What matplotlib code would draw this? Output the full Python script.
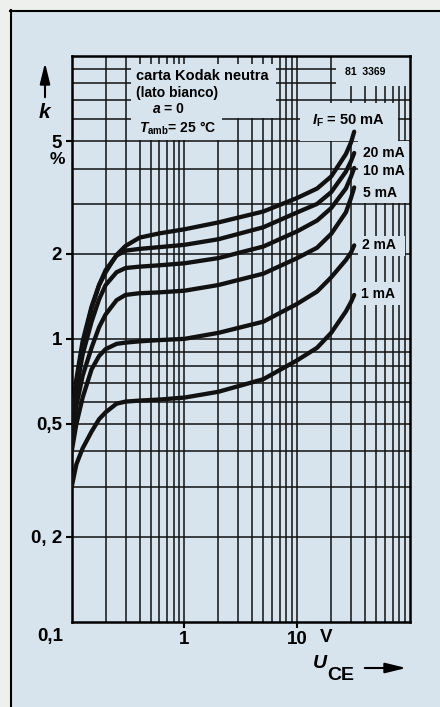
import matplotlib.pyplot as plt
from matplotlib.patches import Rectangle, FancyArrowPatch
from matplotlib.lines import Line2D
from matplotlib.ticker import LogLocator, NullFormatter

plt.rcParams['font.family'] = 'Liberation Sans'
plt.rcParams['font.weight'] = 'bold'
plt.rcParams['mathtext.fontset'] = 'custom'
plt.rcParams['mathtext.rm'] = 'Liberation Sans:bold'
plt.rcParams['mathtext.it'] = 'Liberation Sans:italic:bold'
plt.rcParams['mathtext.bf'] = 'Liberation Sans:bold'

# U_CE in V
u_ce = [0.1, 0.11, 0.125, 0.15, 0.175, 0.2, 0.25, 0.3, 0.4, 0.6, 1, 2, 5, 10, 15, 20, 27, 30, 32]

# k in % for each forward current I_F
k_50ma = [0.52, 0.72, 0.98, 1.3, 1.55, 1.72, 1.98, 2.13, 2.28, 2.36, 2.44, 2.58, 2.82, 3.15, 3.4, 3.75, 4.5, 4.95, 5.4]
k_20ma = [0.5, 0.7, 0.95, 1.28, 1.55, 1.75, 1.97, 2.05, 2.08, 2.11, 2.15, 2.25, 2.48, 2.8, 3.0, 3.3, 3.9, 4.25, 4.54]
k_10ma = [0.48, 0.66, 0.88, 1.15, 1.38, 1.55, 1.72, 1.78, 1.8, 1.82, 1.85, 1.93, 2.12, 2.4, 2.62, 2.9, 3.4, 3.75, 4.02]
k_5ma = [0.46, 0.58, 0.74, 0.93, 1.1, 1.22, 1.37, 1.43, 1.45, 1.46, 1.48, 1.55, 1.7, 1.93, 2.1, 2.35, 2.8, 3.15, 3.43]
k_2ma = [0.4, 0.5, 0.62, 0.78, 0.87, 0.92, 0.96, 0.97, 0.98, 0.99, 1.0, 1.05, 1.15, 1.33, 1.47, 1.65, 1.9, 2.02, 2.14]
k_1ma = [0.3, 0.36, 0.41, 0.47, 0.52, 0.55, 0.59, 0.6, 0.605, 0.61, 0.62, 0.65, 0.72, 0.84, 0.93, 1.05, 1.25, 1.35, 1.43]

y_ticks = [0.2, 0.5, 1, 2, 5]
y_tick_labels = ['0, 2', '0,5', '1', '2', '5']
x_ticks = [1, 10]
x_tick_labels = ['1', '10']

BG = '#d8e4ed'
W, H = 440, 707


def px(x, y):
    # pixel position (from top-left) -> figure fraction
    return x / W, 1 - y / H


fig = plt.figure(figsize=(W / 100, H / 100), dpi=100, facecolor=BG)

# outer frame of the scanned page
fig.add_artist(Rectangle((0, 0), 10 / W, 1, transform=fig.transFigure, fc='#eef0ee', ec='none'))
fig.add_artist(Rectangle(px(0, 10), 1, 10 / H, transform=fig.transFigure, fc='#eef0ee', ec='none'))
fig.add_artist(Line2D([10.5 / W, 10.5 / W], [0, 1 - 10 / H], transform=fig.transFigure, color='k', lw=1.5))
fig.add_artist(Line2D([10 / W, 1], [1 - 10.5 / H, 1 - 10.5 / H], transform=fig.transFigure, color='k', lw=1.5))

ax = fig.add_axes([71.7 / W, 1 - 621.7 / H, (410 - 71.7) / W, (621.7 - 56) / H])
ax.set_facecolor(BG)
ax.set_xscale('log')
ax.set_yscale('log')
ax.set_xlim(0.1, 100)
ax.set_ylim(0.1, 10)
for axis in (ax.xaxis, ax.yaxis):
    axis.set_minor_locator(LogLocator(base=10, subs=range(2, 10)))
    axis.set_minor_formatter(NullFormatter())
ax.set_xticks(x_ticks, x_tick_labels)
ax.set_yticks(y_ticks, y_tick_labels)
ax.grid(True, which='both', color='#111111', lw=1.1)
ax.tick_params(which='minor', length=0)
ax.tick_params(which='major', direction='out', length=4, width=1.5, labelsize=13.5, pad=3)
for sp in ax.spines.values():
    sp.set_linewidth(1.8)

for k in (k_50ma, k_20ma, k_10ma, k_5ma, k_2ma, k_1ma):
    ax.plot(u_ce, k, color='#111111', lw=3.1, solid_capstyle='round',
            solid_joinstyle='round', zorder=3)

# blank areas behind the annotations (grid lines interrupted)
for x0, y0, x1, y1 in [(131, 64, 222, 140), (222, 64, 276, 118), (336, 57, 410, 86),
                       (300, 103, 398, 141), (358, 141, 409, 203), (358, 236, 405, 256),
                       (355, 282, 400, 305)]:
    ax.add_patch(Rectangle(px(x0, y1), (x1 - x0) / W, (y1 - y0) / H,
                           transform=fig.transFigure, fc=BG, ec='none', zorder=2))

# annotation texts
fs = 10
fig.text(*px(136, 76), 'carta Kodak neutra', size=10.5, va='center')
fig.text(*px(136, 93), '(lato bianco)', size=fs, va='center')
fig.text(*px(153, 109), 'a', size=fs, style='italic', va='center')
fig.text(*px(164, 109), '= 0', size=fs, va='center')
fig.text(*px(139, 128), r'$T_{\rm amb}$= 25 °C', size=fs, va='center')
fig.text(*px(345, 72), '81  3369', size=7.5, va='center')
fig.text(*px(312, 121), r'$I_{\rm F}$ = 50 mA', size=10.5, va='center')
fig.text(*px(363, 153), '20 mA', size=fs, va='center')
fig.text(*px(363, 171), '10 mA', size=fs, va='center')
fig.text(*px(363, 193), '5 mA', size=fs, va='center')
fig.text(*px(362, 245), '2 mA', size=fs, va='center')
fig.text(*px(361, 294), '1 mA', size=fs, va='center')

# axis labels
fig.text(*px(57, 160), '%', size=12.5, ha='center', va='center')
fig.text(*px(50, 637), '0,1', size=13.5, ha='center', va='center')
fig.text(*px(326, 637), 'V', size=13.5, ha='center', va='center')
fig.text(*px(44, 113), 'k', size=15, style='italic', ha='center', va='center')
fig.add_artist(FancyArrowPatch(px(45, 100), px(45, 60), transform=fig.transFigure,
                               arrowstyle='-|>,head_length=0.9,head_width=0.22',
                               mutation_scale=14, color='k', lw=1.5))
fig.text(*px(320, 664), 'U', size=14, style='italic', ha='center', va='center')
fig.text(*px(341, 675), 'CE', size=14, ha='center', va='center')
fig.add_artist(FancyArrowPatch(px(362, 668), px(409, 668), transform=fig.transFigure,
                               arrowstyle='-|>,head_length=0.9,head_width=0.22',
                               mutation_scale=14, color='k', lw=1.5))

fig.savefig('out.png', dpi=100, facecolor=BG)
